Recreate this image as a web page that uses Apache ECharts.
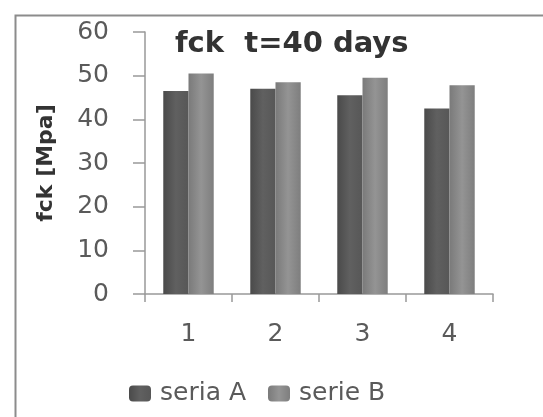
<!DOCTYPE html>
<html>
<head>
<meta charset="utf-8">
<script src="https://cdn.jsdelivr.net/npm/echarts@6/dist/echarts.min.js"></script>
<style>
  html, body { margin: 0; padding: 0; background: #fff; }
  #chart { width: 543px; height: 417px; }
</style>
</head>
<body>
<div id="chart"></div>
<script>
var categories = ['1', '2', '3', '4'];
var seriaA = [46.5, 47, 45.5, 42.5];
var serieB = [50.5, 48.5, 49.5, 47.8];
var yTicks = [0, 10, 20, 30, 40, 50, 60];

var myChart = echarts.init(document.getElementById('chart'));

function barGrad(c1, c2, c3) {
    return new echarts.graphic.LinearGradient(0, 0, 1, 0, [
        { offset: 0, color: c1 },
        { offset: 0.5, color: c2 },
        { offset: 1, color: c3 }
    ]);
}

var labelFont = { color: '#5a5a5a', fontSize: 25, fontFamily: 'DejaVu Sans' };

var option = {
    backgroundColor: '#fff',
    animation: false,
    graphic: [{
        type: 'rect',
        left: 13, top: 13,
        shape: { width: 600, height: 500 },
        style: { fill: 'none', stroke: '#8c8c8c', lineWidth: 2 }
    }],
    title: {
        text: 'fck  t=40 days',
        left: 170, top: 25,
        textStyle: { color: '#333', fontSize: 29, fontWeight: 'bold', fontFamily: 'DejaVu Sans' }
    },
    legend: {
        data: ['seria A', 'serie B'],
        left: 124, top: 376,
        itemWidth: 22, itemHeight: 16, itemGap: 22,
        textStyle: Object.assign({}, labelFont, { padding: [0, 0, 0, 4] })
    },
    grid: { left: 145, right: 50, top: 32, bottom: 123 },
    xAxis: {
        type: 'category',
        data: categories,
        axisLine: { lineStyle: { color: '#999', width: 1.5 } },
        axisTick: { show: true, length: 8, lineStyle: { color: '#999', width: 1.5 } },
        axisLabel: Object.assign({ margin: 28 }, labelFont)
    },
    yAxis: {
        type: 'value',
        min: yTicks[0], max: yTicks[yTicks.length - 1], interval: 10,
        name: 'fck [Mpa]',
        nameLocation: 'middle',
        nameGap: 88,
        nameTextStyle: { color: '#333', fontSize: 22, fontWeight: 'bold', fontFamily: 'DejaVu Sans' },
        axisLine: { show: true, lineStyle: { color: '#999', width: 1.5 } },
        axisTick: { show: true, length: 12, lineStyle: { color: '#999', width: 1.5 } },
        axisLabel: Object.assign({ margin: 36 }, labelFont),
        splitLine: { show: false }
    },
    series: [{
        name: 'seria A',
        type: 'bar',
        data: seriaA,
        barGap: 0,
        barCategoryGap: '42%',
        itemStyle: { color: barGrad('#4a4a4a', '#606060', '#575757') }
    }, {
        name: 'serie B',
        type: 'bar',
        data: serieB,
        itemStyle: { color: barGrad('#7a7a7a', '#949494', '#7e7e7e') }
    }]
};
myChart.setOption(option);
</script>
</body>
</html>
